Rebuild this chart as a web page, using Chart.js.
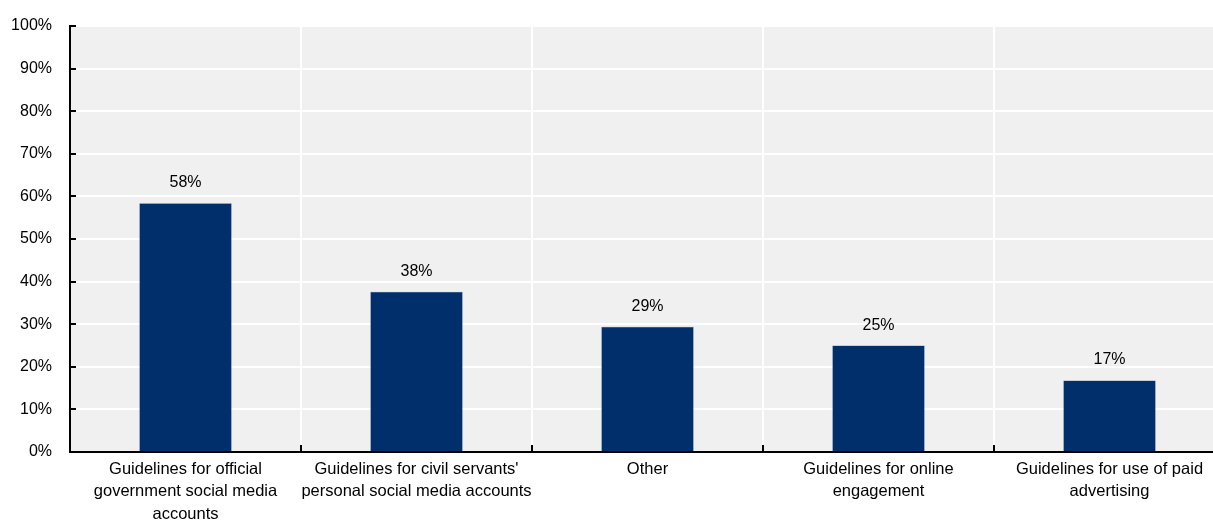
<!DOCTYPE html>
<html>
<head>
<meta charset="utf-8">
<script src="https://cdn.jsdelivr.net/npm/chart.js@4.4.0/dist/chart.umd.min.js"></script>
<style>
  html, body { margin: 0; padding: 0; background: #fff; overflow: hidden; }
  #wrap { width: 1225px; height: 522px; }
</style>
</head>
<body>
<div id="wrap"><canvas id="myBar"></canvas></div>
<script>
let categories = [
  ["Guidelines for official", "government social media", "accounts"],
  ["Guidelines for civil servants'", "personal social media accounts"],
  ["Other"],
  ["Guidelines for online", "engagement"],
  ["Guidelines for use of paid", "advertising"]
]
let shares = [58.4, 37.6, 29.4, 25.0, 16.8]
let yTicks = [0, 10, 20, 30, 40, 50, 60, 70, 80, 90, 100]

const fontFam = "'Liberation Sans', Arial, sans-serif"

// grey plot background, inner tick marks and value labels
const decor = {
  id: 'decor',
  beforeDraw(chart) {
    let a = chart.chartArea
    let ctx = chart.ctx
    ctx.save()
    ctx.fillStyle = '#f0f0f0'
    ctx.fillRect(a.left, a.top, a.right - a.left, a.bottom - a.top)
    ctx.restore()
  },
  afterDraw(chart) {
    let ctx = chart.ctx
    let a = chart.chartArea
    let y = chart.scales.y
    let x = chart.scales.x
    ctx.save()
    ctx.strokeStyle = '#000'
    ctx.lineWidth = 2
    ctx.beginPath()
    yTicks.forEach(v => {
      let py = Math.round(y.getPixelForValue(v))
      ctx.moveTo(a.left, py)
      ctx.lineTo(a.left + 6, py)
    })
    for (let i = 1; i < categories.length; i++) {
      let px = Math.round((x.getPixelForValue(i - 1) + x.getPixelForValue(i)) / 2)
      ctx.moveTo(px, a.bottom)
      ctx.lineTo(px, a.bottom - 7)
    }
    ctx.stroke()

    ctx.fillStyle = '#000'
    ctx.font = '16px ' + fontFam
    ctx.textAlign = 'center'
    ctx.textBaseline = 'alphabetic'
    chart.getDatasetMeta(0).data.forEach((bar, i) => {
      ctx.fillText(Math.round(shares[i]) + '%', bar.x, bar.y - 16)
    })
    ctx.restore()
  }
}

let cht = document.getElementById('myBar')
let barChart = new Chart(cht, {
  type: 'bar',
  data: {
    labels: categories,
    datasets: [{
      data: shares,
      backgroundColor: '#002f6c',
      borderColor: '#4a6a9a',
      borderWidth: 0.5,
      categoryPercentage: 1,
      barPercentage: 0.4
    }]
  },
  options: {
    responsive: true,
    maintainAspectRatio: false,
    animation: false,
    layout: { padding: { top: 18, right: 0, left: 0, bottom: 0 } },
    plugins: {
      legend: { display: false },
      tooltip: { enabled: false }
    },
    scales: {
      y: {
        min: 0,
        max: 100,
        afterFit: (s) => { s.width = 70 },
        afterBuildTicks: (s) => { s.ticks = yTicks.map(v => ({ value: v })) },
        ticks: {
          color: '#000',
          font: { size: 16, family: fontFam, lineHeight: 1 },
          padding: 18,
          callback: (v) => v + '%'
        },
        grid: { color: '#ffffff', lineWidth: 2, drawTicks: false },
        border: { color: '#000', width: 2 }
      },
      x: {
        afterFit: (s) => { s.height = 70 },
        ticks: {
          color: '#000',
          font: { size: 16.5, family: fontFam, lineHeight: 1.37 },
          padding: 6,
          maxRotation: 0,
          autoSkip: false
        },
        grid: { color: '#ffffff', lineWidth: 2, drawTicks: false, offset: true },
        border: { color: '#000', width: 2 }
      }
    }
  },
  plugins: [decor]
})
</script>
</body>
</html>
